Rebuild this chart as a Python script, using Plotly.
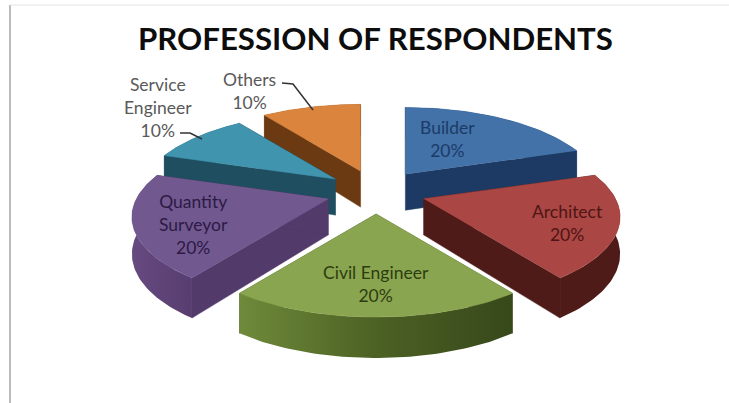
import numpy as np
import plotly.graph_objects as go

categories = ["Builder", "Architect", "Civil Engineer", "Quantity Surveyor", "Service Engineer", "Others"]
values = [20, 20, 20, 20, 10, 10]
tick_text = ["Builder<br>20%", "Architect<br>20%", "Civil Engineer<br>20%",
             "Quantity<br>Surveyor<br>20%", "Service<br>Engineer<br>10%", "Others<br>10%"]
top_colors = ["#4272a8", "#aa4643", "#8aa54f", "#71588f", "#4094ae", "#db843d"]
wall_colors = ["#1c3a63", "#4f1b18", "#4a5f25", "#523a6b", "#1e4e60", "#6b3a12"]
arc_grads = [
    ["#1c3a63", "#1c3a63"],
    ["#4f1b18", "#4f1b18"],
    ["#6f8a3a", "#4c6124", "#37481a"],
    ["#664a80", "#583d70"],
    ["#1e4e60", "#1e4e60"],
    ["#6b3a12", "#6b3a12"],
]
text_colors = ["#1d3a66", "#4f1515", "#2c3d10", "#2c1a45", "#595959", "#595959"]
label_xy = [(447, 139), (567, 223), (376, 284), (193, 224), (158, 107), (249, 91)]
draw_order = [5, 0, 4, 1, 3, 2]

CX, CY, EX, EY = 376, 192, 50, 22      # pie centre, explosion on screen
A, B, K = 192, 81, 0.214               # tilt and perspective of the disc
DEPTH, DEPTH_K = 36, 5


def project(theta, apex):
    u, v = np.sin(theta), -np.cos(theta)
    w = 1 - K * v
    return apex[0] + A * u / w, apex[1] + B * v / w, DEPTH + DEPTH_K * v


fig = go.Figure()


def poly(xs, ys, color):
    fig.add_trace(go.Scatter(x=list(xs), y=list(ys), mode="lines", fill="toself",
                             fillcolor=color, line=dict(color=color, width=0.5),
                             hoverinfo="skip", showlegend=False))


def grad_poly(xs, ys, stops):
    scale = [[k / (len(stops) - 1), c] for k, c in enumerate(stops)]
    fig.add_trace(go.Scatter(x=list(xs), y=list(ys), mode="lines", fill="toself",
                             fillgradient=dict(type="horizontal", colorscale=scale),
                             line=dict(width=0), hoverinfo="skip", showlegend=False))


total = sum(values)
edges = np.concatenate([[0], np.cumsum(values)]) / total * 2 * np.pi
for i in draw_order:
    a0, a1 = edges[i], edges[i + 1]
    mid = (a0 + a1) / 2
    apex = (CX + EX * np.sin(mid), CY - EY * np.cos(mid))
    th = np.linspace(a0, a1, 60)
    ax, ay, ad = project(th, apex)
    d0 = DEPTH
    # radial walls
    poly([apex[0], ax[0], ax[0], apex[0]],
         [apex[1], ay[0], ay[0] + ad[0], apex[1] + d0], wall_colors[i])
    poly([apex[0], ax[-1], ax[-1], apex[0]],
         [apex[1], ay[-1], ay[-1] + ad[-1], apex[1] + d0], wall_colors[i])
    # outer wall
    grad_poly(np.concatenate([ax, ax[::-1]]), np.concatenate([ay, (ay + ad)[::-1]]), arc_grads[i])
    # top face
    poly(np.concatenate([[apex[0]], ax]), np.concatenate([[apex[1]], ay]), top_colors[i])

for txt, (x, y), c in zip(tick_text, label_xy, text_colors):
    fig.add_annotation(x=x, y=y, text=txt, showarrow=False, xanchor="center", yanchor="middle",
                       font=dict(family="Lato", size=17.5, color=c))

fig.add_annotation(x=375, y=38, text="<b>PROFESSION OF RESPONDENTS</b>", showarrow=False,
                   font=dict(family="Lato", size=31.2, color="#0d0d0d"))

# leader lines and picture frame
fig.add_trace(go.Scatter(x=[282, 293, 313], y=[83, 84, 110], mode="lines",
                         line=dict(color="#333333", width=1.5), hoverinfo="skip", showlegend=False))
fig.add_trace(go.Scatter(x=[180, 190, 202], y=[133, 133, 139], mode="lines",
                         line=dict(color="#333333", width=1.5), hoverinfo="skip", showlegend=False))
fig.add_shape(type="line", x0=10, x1=10, y0=5, y1=403, line=dict(color="#a6a6a6", width=1.5))
fig.add_shape(type="line", x0=10, x1=729, y0=5, y1=5, line=dict(color="#e4e4e4", width=1))

fig.update_layout(width=729, height=403, margin=dict(l=0, r=0, t=0, b=0),
                  paper_bgcolor="white", plot_bgcolor="white", showlegend=False,
                  xaxis=dict(range=[0, 729], visible=False, fixedrange=True),
                  yaxis=dict(range=[403, 0], visible=False, fixedrange=True))
fig.write_html("out.html", config=dict(displayModeBar=False),
               post_script="document.body.style.margin='0';")
